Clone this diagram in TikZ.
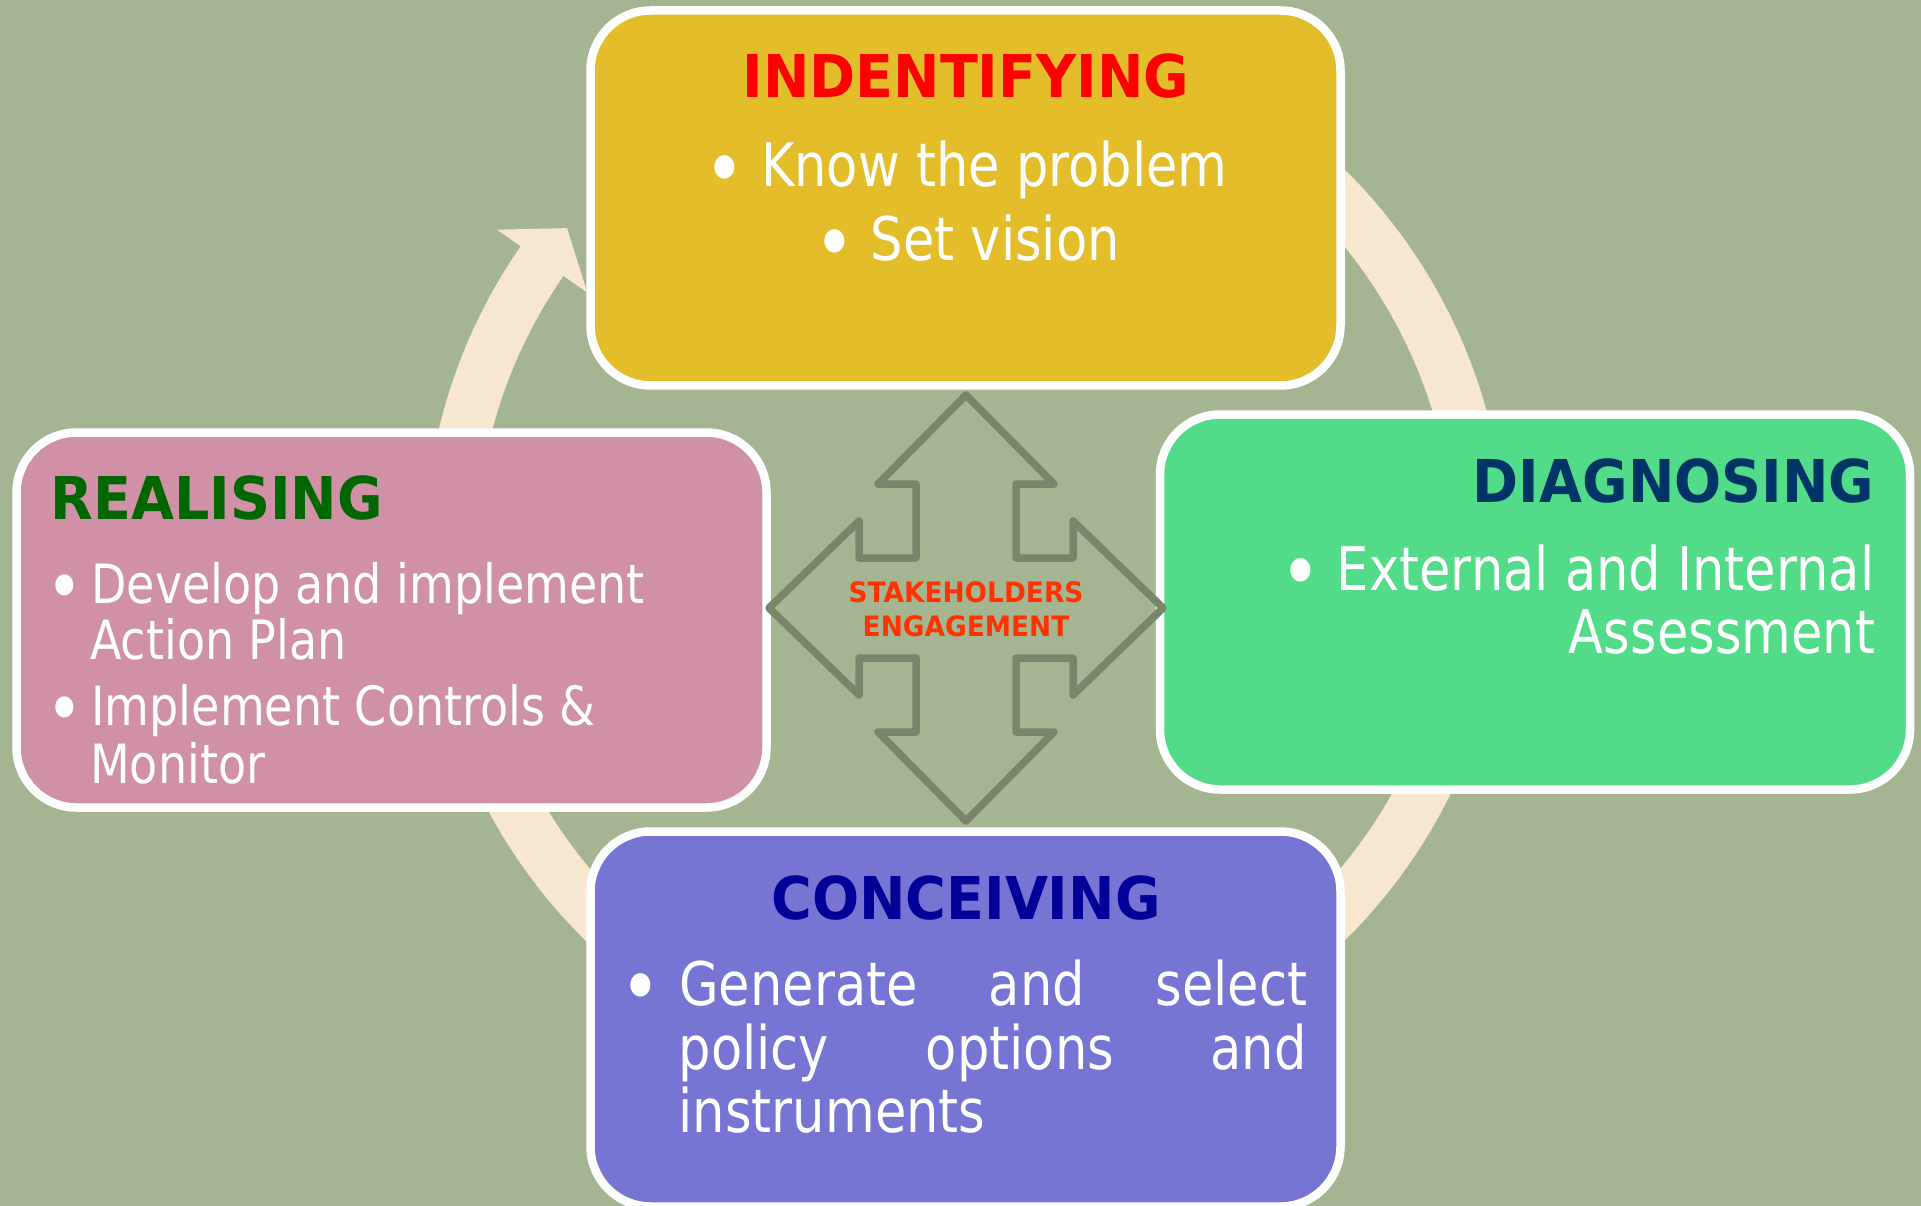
\documentclass[tikz,border=0pt]{standalone}
\usepackage{graphicx}
\usepackage{fontspec}
\setmainfont{DejaVu Sans}[FakeStretch=0.85]
\newfontfamily\headfont{DejaVu Sans}[FakeStretch=0.94]

\definecolor{bgcol}{HTML}{A5B592}
\definecolor{ringcol}{HTML}{F7E7CF}
\definecolor{identcol}{HTML}{E4BD2A}
\definecolor{diagcol}{HTML}{52DC8A}
\definecolor{conccol}{HTML}{7775D3}
\definecolor{realcol}{HTML}{D091A6}
\definecolor{identhead}{HTML}{FF0000}
\definecolor{diaghead}{HTML}{003366}
\definecolor{conchead}{HTML}{000099}
\definecolor{realhead}{HTML}{006600}
\definecolor{stakecol}{HTML}{FF3300}
\definecolor{arrowcol}{HTML}{7A866A}

\newcommand{\itembul}[1]{\raisebox{-0.17em}{\scalebox{1.35}{\textbullet}}\hspace{#1}}

\tikzset{
    stagebox/.style={draw=white, line width=0.85mm, rounded corners=6mm,
        minimum width=75mm, minimum height=37.5mm},
    stagehead/.style={inner sep=0pt, font=\headfont\bfseries\fontsize{16.8pt}{20pt}\selectfont},
    stagetext/.style={inner sep=0pt, text=white, font=\fontsize{17.1pt}{20pt}\selectfont},
    smalltext/.style={inner sep=0pt, text=white, font=\fontsize{15.4pt}{18pt}\selectfont},
    ring/.style={draw=ringcol, line width=5.2mm},
    stakearrow/.style={draw=arrowcol, line width=0.75mm, line join=round},
}

\begin{document}
\begin{tikzpicture}[x=0.1mm,y=-0.1mm]
        %% Background
        \fill[bgcol] (0,0) rectangle (1921,1206);
        \useasboundingbox (0,0) rectangle (1921,1206);
        %% Cycle ring, clockwise, head at top left
        \coordinate (hub) at (965,555);
        \draw[ring] (hub) ++(-80:515) arc (-80:215:515);
        \fill[ringcol] ([shift={(hub)}]214.8:570) -- ([shift={(hub)}]219.4:515)
            -- ([shift={(hub)}]214.8:460) -- cycle;
        %% Stage boxes
        \node[stagebox,fill=identcol] (identBox) at (965.5,198) {};
        \node[stagebox,fill=diagcol] (diagBox) at (1535,602) {};
        \node[stagebox,fill=conccol] (concBox) at (965.5,1019) {};
        \node[stagebox,fill=realcol] (realBox) at (391.5,620) {};
        %% Four-way arrow in the middle
        \draw[stakearrow] (966,395) -- (1054,484) -- (1016,484) -- (1016,558)
            -- (1073,558) -- (1073,521) -- (1163,608) -- (1073,695) -- (1073,658)
            -- (1016,658) -- (1016,732) -- (1054,732) -- (966,821) -- (878,732)
            -- (916,732) -- (916,658) -- (859,658) -- (859,695) -- (769,608)
            -- (859,521) -- (859,558) -- (916,558) -- (916,484) -- (878,484) -- cycle;
        \node[inner sep=0pt,align=center,text=stakecol,
            font=\headfont\bfseries\fontsize{8pt}{9.7pt}\selectfont] (stakeText)
            at (966,609) {STAKEHOLDERS\\ENGAGEMENT};
        %% Identifying, top
        \node[stagehead,text=identhead,anchor=base] (identTitle) at (966,98) {INDENTIFYING};
        \node[stagetext,anchor=base] (identA) at (966,187) {\itembul{1.6mm}Know the problem};
        \node[stagetext,anchor=base] (identB) at (967,261) {\itembul{1.6mm}Set vision};
        %% Diagnosing, right
        \node[stagehead,text=diaghead,anchor=base east] (diagTitle) at (1875,502) {DIAGNOSING};
        \node[stagetext,anchor=base east] (diagA) at (1875,590) {\itembul{1.6mm}External and Internal};
        \node[stagetext,anchor=base east] (diagB) at (1876,653) {Assessment};
        %% Conceiving, bottom
        \node[stagehead,text=conchead,anchor=base] (concTitle) at (966,919) {CONCEIVING};
        \node[stagetext,anchor=base west] (concA) at (620,1005)
            {\itembul{1.8mm}\makebox[62.8mm][s]{Generate and select}};
        \node[stagetext,anchor=base west] (concB) at (678,1069)
            {\makebox[62.8mm][s]{policy options and}};
        \node[stagetext,anchor=base west] (concC) at (678,1132) {instruments};
        %% Realising, left
        \node[stagehead,text=realhead,anchor=base west] (realTitle) at (50,519) {REALISING};
        \node[smalltext,anchor=base west] (realA) at (46,603) {\itembul{0.8mm}Develop and implement};
        \node[smalltext,anchor=base west] (realB) at (89.5,659) {Action Plan};
        \node[smalltext,anchor=base west] (realC) at (46,725) {\itembul{0.8mm}Implement Controls \&};
        \node[smalltext,anchor=base west] (realD) at (89.5,783) {Monitor};
\end{tikzpicture}
\end{document}
